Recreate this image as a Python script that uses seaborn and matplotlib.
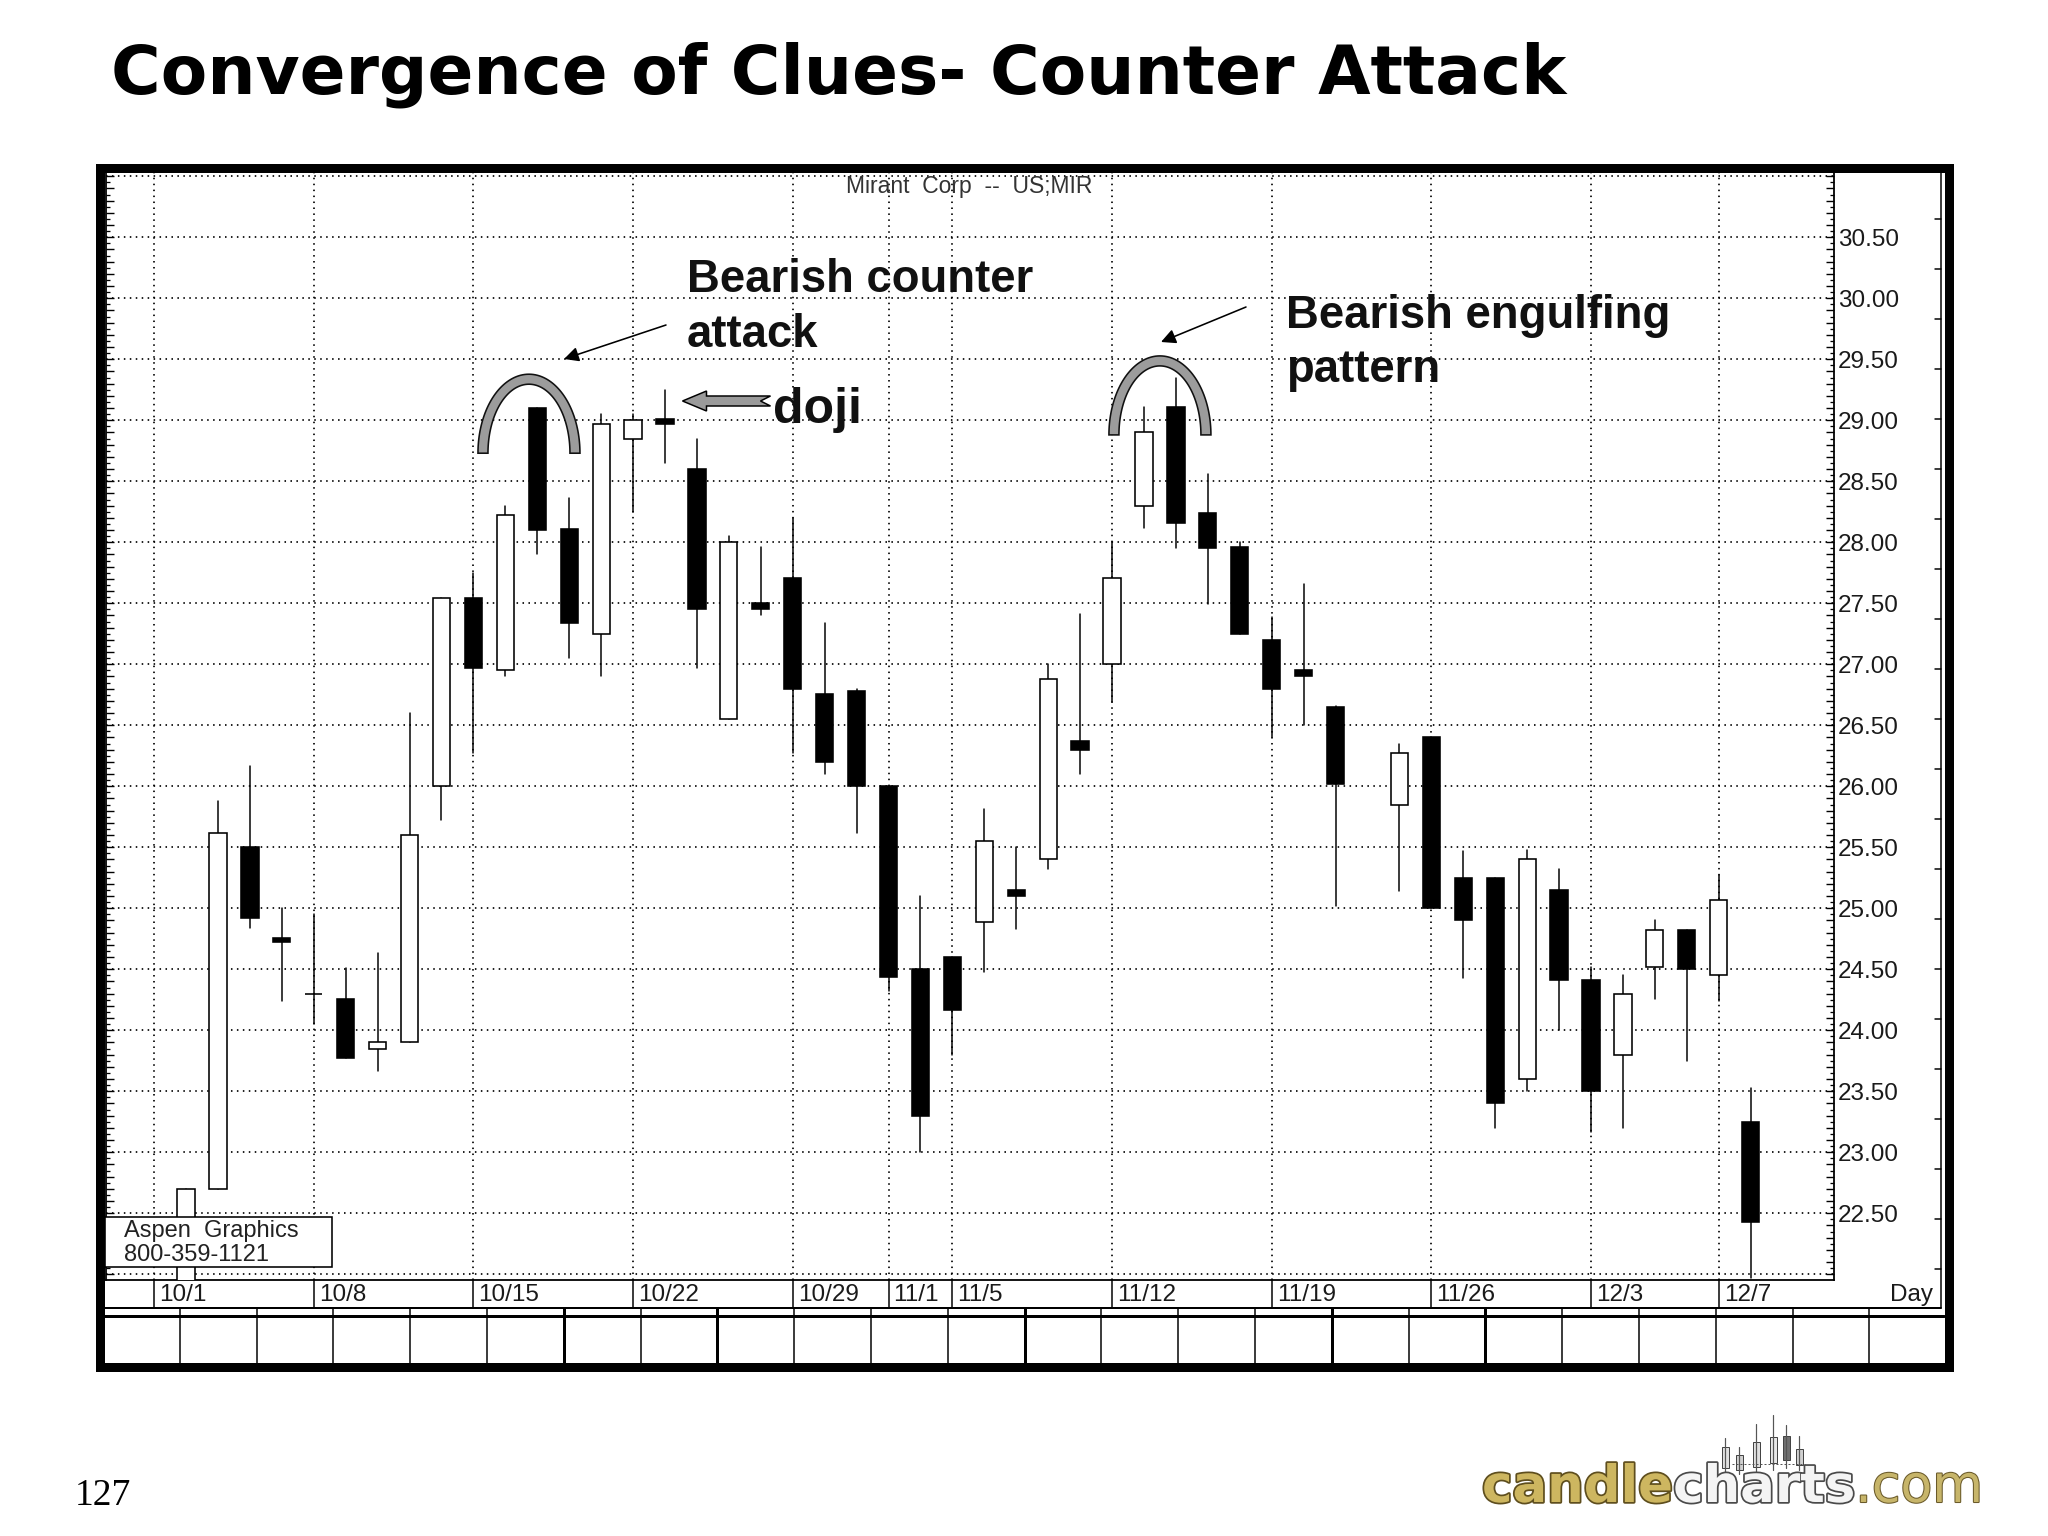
import numpy as np
import pandas as pd
import matplotlib
matplotlib.use("Agg")
import matplotlib.pyplot as plt
import matplotlib.patheffects as pe
from matplotlib.patches import Polygon, Rectangle
import seaborn as sns

# ---------------- data ----------------
dates = ["2001-10-02", "2001-10-03", "2001-10-04", "2001-10-05",
         "2001-10-08", "2001-10-09", "2001-10-10", "2001-10-11", "2001-10-12",
         "2001-10-15", "2001-10-16", "2001-10-17", "2001-10-18", "2001-10-19",
         "2001-10-22", "2001-10-23", "2001-10-24", "2001-10-25", "2001-10-26",
         "2001-10-29", "2001-10-30", "2001-10-31", "2001-11-01", "2001-11-02",
         "2001-11-05", "2001-11-06", "2001-11-07", "2001-11-08", "2001-11-09",
         "2001-11-12", "2001-11-13", "2001-11-14", "2001-11-15", "2001-11-16",
         "2001-11-19", "2001-11-20", "2001-11-21", "2001-11-23",
         "2001-11-26", "2001-11-27", "2001-11-28", "2001-11-29", "2001-11-30",
         "2001-12-03", "2001-12-04", "2001-12-05", "2001-12-06", "2001-12-07",
         "2001-12-10"]

opens = [21.80, 22.70, 25.50, 24.76,
         24.30, 24.26, 23.85, 23.90, 26.00,
         27.54, 26.95, 29.10, 28.11, 27.25,
         28.85, 29.01, 28.60, 26.55, 27.50,
         27.71, 26.76, 26.78, 26.00, 24.50,
         24.60, 24.89, 25.15, 25.40, 26.37,
         27.00, 28.30, 29.11, 28.24, 27.96,
         27.20, 26.95, 26.65, 25.85,
         26.40, 25.25, 25.25, 23.60, 25.15,
         24.41, 23.80, 24.52, 24.82, 24.45,
         23.25]

highs = [22.70, 25.88, 26.17, 25.00,
         24.95, 24.51, 24.63, 26.60, 27.54,
         27.75, 28.30, 29.10, 28.36, 29.05,
         29.05, 29.25, 28.85, 28.05, 27.96,
         28.20, 27.34, 26.80, 26.00, 25.10,
         24.60, 25.81, 25.50, 27.00, 27.41,
         28.00, 29.11, 29.35, 28.56, 28.00,
         27.39, 27.66, 26.66, 26.35,
         26.40, 25.47, 25.25, 25.48, 25.32,
         24.52, 24.45, 24.90, 24.82, 25.27,
         23.53]

lows = [21.70, 22.70, 24.84, 24.24,
        24.05, 23.77, 23.67, 23.90, 25.72,
        26.27, 26.90, 27.90, 27.05, 26.90,
        28.25, 28.65, 26.97, 26.55, 27.40,
        26.27, 26.10, 25.62, 24.32, 23.00,
        23.80, 24.48, 24.83, 25.32, 26.10,
        26.69, 28.12, 27.95, 27.49, 27.25,
        26.40, 26.50, 25.02, 25.14,
        25.00, 24.43, 23.20, 23.50, 24.00,
        23.17, 23.20, 24.26, 23.75, 24.24,
        21.97]

closes = [22.70, 25.62, 24.92, 24.72,
          24.30, 23.77, 23.90, 25.60, 27.54,
          26.97, 28.22, 28.10, 27.34, 28.97,
          29.00, 28.97, 27.45, 28.00, 27.45,
          26.80, 26.20, 26.00, 24.44, 23.30,
          24.17, 25.55, 25.10, 26.88, 26.30,
          27.71, 28.90, 28.16, 27.95, 27.25,
          26.80, 26.90, 26.02, 26.27,
          25.00, 24.90, 23.40, 25.40, 24.41,
          23.50, 24.30, 24.82, 24.50, 25.07,
          22.43]

tick_dates = ["2001-10-01", "2001-10-08", "2001-10-15", "2001-10-22", "2001-10-29",
              "2001-11-01", "2001-11-05", "2001-11-12", "2001-11-19", "2001-11-26",
              "2001-12-03", "2001-12-07"]
tick_labels = ["10/1", "10/8", "10/15", "10/22", "10/29", "11/1", "11/5",
               "11/12", "11/19", "11/26", "12/3", "12/7"]
price_labels = [22.5, 23.0, 23.5, 24.0, 24.5, 25.0, 25.5, 26.0, 26.5,
                27.0, 27.5, 28.0, 28.5, 29.0, 29.5, 30.0, 30.5]

title = "Convergence of Clues- Counter Attack"
chart_name = "Mirant  Corp  --  US;MIR"
note_counter = ["Bearish counter", "attack"]
note_engulf = ["Bearish engulfing", "pattern"]
note_doji = "doji"

# ---------------- setup ----------------
sns.set_theme(style="white")
plt.rcParams["font.family"] = ["Liberation Sans", "DejaVu Sans"]

W, H = 2048, 1536
fig = plt.figure(figsize=(W / 100, H / 100), dpi=100)
fig.patch.set_facecolor("white")

def P(px):
    return px * 0.72  # pixels -> points at 100 dpi

start = np.datetime64("2001-10-01")
slots = np.busday_count(start, np.array(dates, dtype="datetime64[D]"))
tick_slots = np.busday_count(start, np.array(tick_dates, dtype="datetime64[D]"))

left_px, right_px, top_px, bot_px = 106, 1834, 172, 1280
ax = fig.add_axes([left_px / W, 1 - bot_px / H, (right_px - left_px) / W, (bot_px - top_px) / H])
ax.set_facecolor("white")

# wicks through seaborn
wick_df = pd.DataFrame({
    "slot": np.repeat(slots, 2),
    "price": np.column_stack([lows, highs]).ravel(),
    "day": np.repeat(dates, 2),
})
sns.lineplot(data=wick_df, x="slot", y="price", units="day", estimator=None,
             color="black", lw=P(1.5), sort=False, legend=False, ax=ax, zorder=2)

o = np.array(opens); c = np.array(closes)
bottom = np.minimum(o, c)
height = np.abs(c - o)
face = np.where(c < o, "black", "white")
ax.bar(slots, height, bottom=bottom, width=0.54, color=face, edgecolor="black",
       linewidth=P(1.6), zorder=3)

ax.set_xlim(-1.506, 52.61)
ax.set_ylim(21.953, 31.035)
ax.set_xlabel("")
ax.set_ylabel("")

# grid (dotted)
for g in np.arange(22.0, 31.01, 0.5):
    ax.axhline(g, color="black", lw=P(1.7), linestyle=(0, (0.9, 2.6)), zorder=1)
for s in tick_slots:
    ax.axvline(s, color="black", lw=P(1.7), linestyle=(0, (0.9, 2.6)), zorder=1)

# ticks
major_y = np.round(np.arange(22.0, 31.001, 0.1), 2)
ax.set_yticks(major_y)
ax.set_yticklabels([f"{v:.2f}" if any(abs(v - p) < 1e-6 for p in price_labels) else "" for v in major_y])
ax.set_yticks(np.round(np.arange(22.05, 31.0, 0.1), 2), minor=True)
ax.tick_params(axis="y", which="major", direction="in", left=True, right=True,
               labelleft=False, labelright=True, length=P(8), width=P(1.4),
               pad=P(4), labelsize=17.5, labelcolor="#1a1a1a", color="black")
ax.tick_params(axis="y", which="minor", direction="in", left=True, right=True,
               length=P(4), width=P(1.3), color="black")
ax.set_xticks([])
for sp in ax.spines.values():
    sp.set_color("black")
    sp.set_linewidth(P(1.8))

# ---------------- overlay (pixel coordinates, y downward) ----------------
ov = fig.add_axes([0, 0, 1, 1], zorder=5)
ov.set_xlim(0, W)
ov.set_ylim(H, 0)
ov.axis("off")
ov.patch.set_alpha(0)

def to_px(x, y):
    dx, dy = ax.transData.transform((x, y))
    return dx, H - dy

# outer frame
ov.add_patch(Rectangle((99.5, 167.5), 1948.5 - 99.5, 1366.5 - 167.5, fill=False,
                       lw=P(9), ec="black", joinstyle="miter"))
# inner right line with ticks
ov.plot([1940.5, 1940.5], [172, 1308], color="black", lw=P(1.5))
for yy in np.arange(219, 1280, 50):
    ov.plot([1934.5, 1940.5], [yy, yy], color="black", lw=P(1.5))

# date label row
ov.plot([104, 1941], [1308, 1308], color="black", lw=P(2))
ov.plot([104, 1944], [1316, 1316], color="black", lw=P(3))
for s, lab in zip(tick_slots, tick_labels):
    xp, _ = to_px(s, 0)
    ov.plot([xp, xp], [1280, 1308], color="black", lw=P(1.5))
    ov.text(xp + 5, 1295, lab, fontsize=17.5, color="#1a1a1a", va="center", ha="left")
ov.text(1933, 1295, "Day", fontsize=17.5, color="#1a1a1a", va="center", ha="right")

# cell row
for k in range(1, 24):
    xx = 103 + 76.8 * k
    ov.plot([xx, xx], [1308, 1363], color="black",
            lw=P(3) if k in (6, 8, 12, 16, 18) else P(1.5))

# title & texts
ov.text(111, 94, title, fontsize=48.8, fontweight="bold", family="DejaVu Sans",
        va="baseline", ha="left", color="black")
ov.text(969, 186, chart_name, fontsize=16.5, color="#333333", ha="center", va="center")

ov.text(687, 292, note_counter[0], fontsize=32.8, fontweight="bold", va="baseline", color="#111111")
ov.text(687, 347, note_counter[1], fontsize=32.8, fontweight="bold", va="baseline", color="#111111")
ov.text(1286, 328, note_engulf[0], fontsize=32.8, fontweight="bold", va="baseline", color="#111111")
ov.text(1286, 382, note_engulf[1], fontsize=32.8, fontweight="bold", va="baseline", color="#111111")
ov.text(773, 423, note_doji, fontsize=36, fontweight="bold", va="baseline", color="#111111")

# arrows
arrow_kw = dict(arrowstyle="-|>", color="black", lw=P(1.6), mutation_scale=22,
                shrinkA=0, shrinkB=0)
ov.annotate("", xy=(564, 359), xytext=(666, 325), arrowprops=arrow_kw)
ov.annotate("", xy=(1161, 342), xytext=(1246, 307), arrowprops=arrow_kw)

# doji block arrow (gray)
dx0, dy0 = 682.5, 401
doji_arrow = np.array([[dx0, dy0], [dx0 + 24, dy0 - 10], [dx0 + 24, dy0 - 5],
                       [dx0 + 88, dy0 - 5], [dx0 + 78, dy0], [dx0 + 88, dy0 + 5],
                       [dx0 + 24, dy0 + 5], [dx0 + 24, dy0 + 10]])
ov.add_patch(Polygon(doji_arrow, closed=True, fc="#9a9a9a", ec="black", lw=P(1.5)))

# horseshoe arcs around the patterns
def horseshoe(cx, cy, a_out=51, b_out=79, t=10):
    th = np.linspace(0, np.pi, 90)
    outer = np.c_[cx + a_out * np.cos(th), cy - b_out * np.sin(th)]
    inner = np.c_[cx + (a_out - t) * np.cos(th[::-1]), cy - (b_out - t) * np.sin(th[::-1])]
    return np.vstack([outer, inner])

for (xs, ys) in [(11.74, 28.73), (31.5, 28.88)]:
    cx, cy = to_px(xs, ys)
    ov.add_patch(Polygon(horseshoe(cx, cy), closed=True, fc="#9c9c9c", ec="#111111",
                         lw=P(1.6), zorder=6))

# Aspen box
ov.add_patch(Rectangle((104.5, 1217), 227, 50, fc="white", ec="black", lw=P(1.6), zorder=7))
ov.text(124, 1231, "Aspen  Graphics", fontsize=17, color="#222222", va="center", zorder=8)
ov.text(124, 1255, "800-359-1121", fontsize=17, color="#222222", va="center", zorder=8)

# page number
ov.text(75, 1505, "127", fontsize=27, family="Liberation Serif", va="baseline", color="black")

# logo
t1 = ov.text(1482, 1502, "candle", fontsize=37, fontweight="bold", family="DejaVu Sans",
             color="#cdb660", va="baseline",
             path_effects=[pe.withStroke(linewidth=2.5, foreground="#5e4e1e")])
t2 = ov.annotate("charts", xy=(1, 0), xycoords=t1, va="bottom", ha="left",
                 fontsize=37, fontweight="bold", family="DejaVu Sans", color="#f4f4f4",
                 path_effects=[pe.withStroke(linewidth=2.5, foreground="#4a4a4a")])
ov.annotate(".com", xy=(1, 0), xycoords=t2, va="bottom", ha="left",
            fontsize=37.5, family="DejaVu Sans", color="#c7b56a",
            path_effects=[pe.withStroke(linewidth=1.5, foreground="#6a5a2a")])
for (lx, btop, bbot, wtop, wbot, fc) in [(1725, 1447, 1468, 1438, 1474, "#e0e0e0"),
                                         (1739, 1455, 1470, 1447, 1474, "#d0d0d0"),
                                         (1756, 1442, 1467, 1424, 1472, "#e0e0e0"),
                                         (1773, 1437, 1463, 1415, 1470, "#e8e8e8"),
                                         (1786, 1436, 1460, 1425, 1468, "#707070"),
                                         (1799, 1449, 1465, 1436, 1470, "#d0d0d0")]:
    ov.plot([lx, lx], [wtop, wbot], color="#555555", lw=P(1.2))
    ov.add_patch(Rectangle((lx - 3.5, btop), 7, bbot - btop, fc=fc, ec="#444444", lw=P(1)))
ov.plot([1732, 1805], [1464, 1464], color="#555555", lw=P(1), linestyle=(0, (2, 2)))

fig.savefig("out.png", dpi=100, facecolor="white")
